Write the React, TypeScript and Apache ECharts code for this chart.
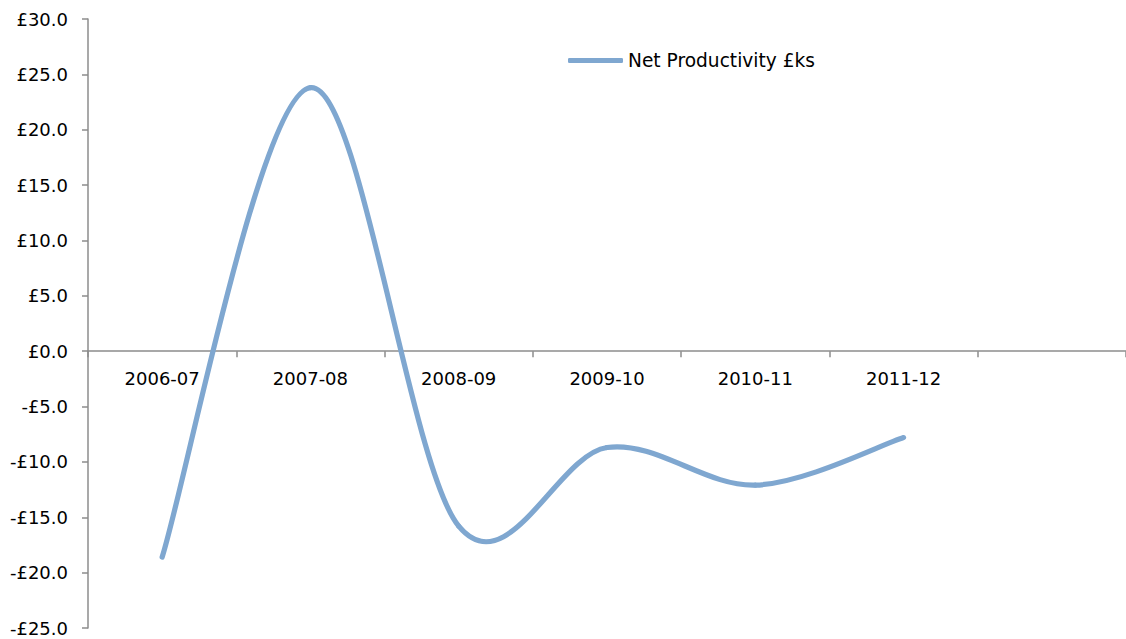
import React, { useEffect, useRef } from "react";
import * as echarts from "echarts";

// Financial years shown along the category axis (last slot is left empty)
const years = ["2006-07", "2007-08", "2008-09", "2009-10", "2010-11", "2011-12", ""];
// Net productivity per year, in £ thousands
const netProductivity = [-18.6, 23.8, -15.8, -8.7, -12.1, -7.8];
const seriesName = "Net Productivity £ks";

const Y_MIN = -25;
const Y_MAX = 30;

const fmtPounds = (v: number) =>
  (v < 0 ? "-£" : "£") + Math.abs(v).toFixed(1);

export default function App() {
  const ref = useRef<HTMLDivElement>(null);

  useEffect(() => {
    if (!ref.current) return;
    const chart = echarts.init(ref.current, undefined, { renderer: "svg" });
    const font = "DejaVu Sans";
    const axisGray = "#8c8c8c";
    const lineColor = "#7fa7d0";

    const H = 639;
    const gridTop = 19;
    const gridBottom = 11;
    const plotH = H - gridTop - gridBottom;
    // move the category axis up so it sits on the value 0
    const zeroY = gridTop + (Y_MAX / (Y_MAX - Y_MIN)) * plotH;
    const xAxisOffset = -((H - gridBottom) - zeroY);

    // Smoothed line: cubic Bezier per segment, tangents from neighbouring points
    const renderSegment = (params: any, api: any) => {
      const i = params.dataIndex;
      const n = netProductivity.length;
      if (i >= n - 1) return null;
      const pts = netProductivity.map((v, k) => api.coord([k, v]));
      const p0 = pts[Math.max(i - 1, 0)];
      const p1 = pts[i];
      const p2 = pts[i + 1];
      const p3 = pts[Math.min(i + 2, n - 1)];
      return {
        type: "bezierCurve",
        shape: {
          x1: p1[0],
          y1: p1[1],
          cpx1: p1[0] + (p2[0] - p0[0]) / 6,
          cpy1: p1[1] + (p2[1] - p0[1]) / 6,
          cpx2: p2[0] - (p3[0] - p1[0]) / 6,
          cpy2: p2[1] - (p3[1] - p1[1]) / 6,
          x2: p2[0],
          y2: p2[1],
        },
        style: { stroke: lineColor, lineWidth: 5.2, fill: "none", lineCap: "round" },
      };
    };

    chart.setOption({
      animation: false,
      backgroundColor: "#ffffff",
      grid: {
        left: 88,
        right: 0,
        top: gridTop,
        bottom: gridBottom,
        containLabel: false,
        outerBoundsMode: "none",
      },
      legend: {
        data: [{ name: seriesName }],
        left: 563,
        top: 46,
        icon: "roundRect",
        itemWidth: 55,
        itemHeight: 5,
        itemGap: 4,
        textStyle: { fontFamily: font, fontSize: 18.6, color: "#000" },
      },
      xAxis: {
        type: "category",
        data: years,
        boundaryGap: true,
        offset: xAxisOffset,
        axisLine: { onZero: false, lineStyle: { color: axisGray, width: 1.5 } },
        axisTick: { show: true, length: 6, lineStyle: { color: axisGray, width: 1.5 } },
        axisLabel: { fontFamily: font, fontSize: 18, color: "#000", margin: 18, interval: 0 },
        splitLine: { show: false },
      },
      yAxis: {
        type: "value",
        min: Y_MIN,
        max: Y_MAX,
        interval: 5,
        axisLine: { show: true, lineStyle: { color: axisGray, width: 1.5 } },
        axisTick: { show: true, length: 6, lineStyle: { color: axisGray, width: 1.5 } },
        axisLabel: {
          fontFamily: font,
          fontSize: 18,
          color: "#000",
          margin: 20,
          formatter: fmtPounds,
        },
        splitLine: { show: false },
      },
      series: [
        {
          name: seriesName,
          type: "custom",
          data: netProductivity.map((v, k) => [k, v]),
          encode: { x: 0, y: 1 },
          renderItem: renderSegment,
          itemStyle: { color: lineColor },
          clip: false,
        },
      ],
    });

    return () => chart.dispose();
  }, []);

  return (
    <div
      ref={ref}
      style={{ position: "absolute", left: 0, top: 0, width: 1126, height: 639 }}
    />
  );
}
